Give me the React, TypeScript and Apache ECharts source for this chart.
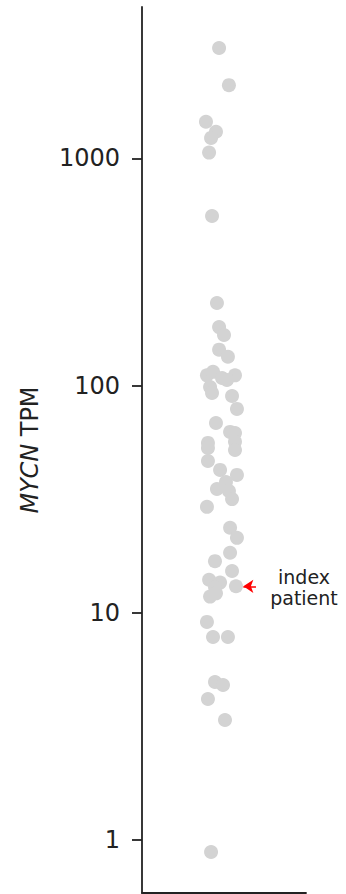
import React, { useEffect, useRef } from "react";
import * as echarts from "echarts";

// MYCN TPM per sample (strip plot) and horizontal jitter
const MYCN_TPM = [
  3060, 2100, 1450, 1310, 1230, 1060, 558, 231, 181, 167, 144, 134, 111, 115, 108, 111, 106,
  98.7, 92.9, 90.1, 79.0, 68.5, 62.6, 61.9, 56.0, 56.6, 53.2, 52.1, 46.6, 42.6, 40.5, 37.7,
  35.1, 34.4, 31.7, 29.3, 23.7, 21.4, 18.4, 16.9, 15.3, 14.0, 13.6, 13.0, 12.2, 11.8, 13.1,
  9.13, 7.84, 7.84, 4.97, 4.82, 4.18, 3.38, 0.888,
];
const JITTER = [
  -0.03, 0.03, -0.11, -0.049, -0.079, -0.091, -0.073, -0.043, -0.03, 0, -0.03, 0.024, -0.104,
  -0.067, -0.012, 0.067, 0.018, -0.085, -0.073, 0.049, 0.079, -0.049, 0.037, 0.067, -0.098,
  0.067, -0.098, 0.067, -0.098, -0.024, 0.079, 0.012, -0.043, 0.03, 0.049, -0.104, 0.037,
  0.079, 0.037, -0.055, 0.049, -0.091, -0.024, -0.055, -0.049, -0.085, 0.073, -0.104, -0.067,
  0.024, -0.055, -0.006, -0.098, 0.006, -0.079,
];
const INDEX_PATIENT_TPM = 13.1;
const TICK_VALUES = [1, 10, 100, 1000];
const TICK_LABELS = ["1", "10", "100", "1000"];
const ANNOTATION = "index\npatient";

export default function App() {
  const ref = useRef<HTMLDivElement>(null);
  useEffect(() => {
    if (!ref.current) return;
    const chart = echarts.init(ref.current, undefined, { renderer: "svg" });
    const font = "DejaVu Sans";
    const data = MYCN_TPM.map((v, i) => [JITTER[i], v]);
    chart.setOption({
      animation: false,
      grid: { left: 142, top: 7, width: 164, height: 886, containLabel: false },
      xAxis: {
        type: "value",
        min: -0.5,
        max: 0.5,
        axisLine: { show: true, onZero: false, lineStyle: { color: "#222", width: 1.8 } },
        axisTick: { show: false },
        axisLabel: { show: false },
        splitLine: { show: false },
      },
      yAxis: {
        type: "log",
        logBase: 10,
        min: 0.586,
        max: 4634,
        name: "{i|MYCN} {n|TPM}",
        nameLocation: "middle",
        nameGap: 100,
        nameTextStyle: {
          fontFamily: font,
          fontSize: 24,
          color: "#222",
          rich: {
            i: { fontStyle: "italic", fontFamily: font, fontSize: 24, color: "#222" },
            n: { fontFamily: font, fontSize: 24, color: "#222" },
          },
        },
        axisLine: { show: true, onZero: false, lineStyle: { color: "#222", width: 1.8 } },
        axisTick: {
          show: true,
          length: 10,
          customValues: TICK_VALUES,
          lineStyle: { color: "#222", width: 1.8 },
        },
        axisLabel: {
          customValues: TICK_VALUES,
          margin: 22,
          fontFamily: font,
          fontSize: 24,
          color: "#222",
          formatter: (v: number) => {
            const idx = TICK_VALUES.findIndex((t) => Math.abs(t - v) / t < 1e-6);
            return idx >= 0 ? TICK_LABELS[idx] : "";
          },
        },
        splitLine: { show: false },
      },
      series: [
        {
          type: "scatter",
          data,
          symbol: "circle",
          symbolSize: 14,
          itemStyle: { color: "#d3d3d3", opacity: 1 },
          silent: true,
          markLine: {
            silent: true,
            symbol: ["none", "arrow"],
            symbolSize: 10,
            label: { show: false },
            lineStyle: { color: "#ff0000", width: 1.5, type: "solid" },
            data: [[{ coord: [0.195, INDEX_PATIENT_TPM] }, { coord: [0.118, INDEX_PATIENT_TPM] }]],
          },
        },
      ],
      graphic: [
        {
          type: "text",
          x: 304,
          y: 587,
          style: {
            text: ANNOTATION,
            fontFamily: font,
            fontSize: 19,
            lineHeight: 21,
            fill: "#222",
            align: "center",
            verticalAlign: "middle",
          },
        },
      ],
    });
    return () => chart.dispose();
  }, []);
  return (
    <div
      ref={ref}
      style={{ position: "absolute", left: 0, top: 0, width: 346, height: 894, background: "#fff" }}
    />
  );
}
